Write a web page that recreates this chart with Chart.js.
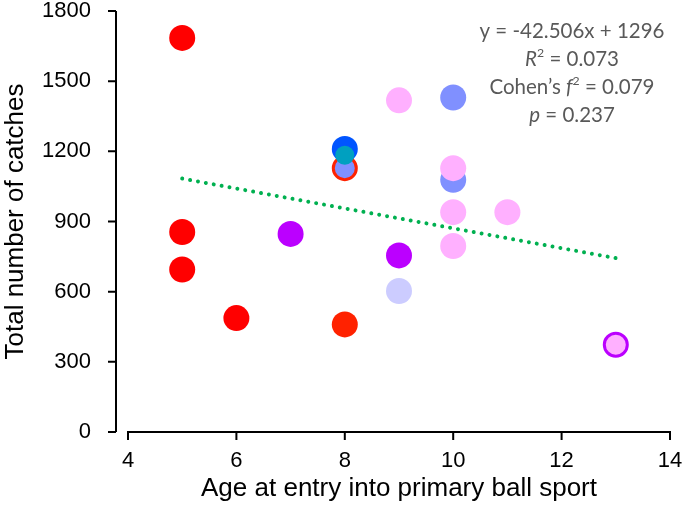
<!DOCTYPE html>
<html>
<head>
<meta charset="utf-8">
<script src="https://cdn.jsdelivr.net/npm/chart.js@4.4.0/dist/chart.umd.min.js"></script>
<style>
  html, body { margin: 0; padding: 0; background: #fff; }
  #wrap { width: 685px; height: 515px; }
</style>
</head>
<body>
<div id="wrap"><canvas id="chart" width="685" height="515"></canvas></div>
<script>
// dados (idade de entrada x total de capturas)
const ageRed = [5, 5, 5, 6]
const catchesRed = [1685, 855, 695, 487]
const ageOrange = [8]
const catchesOrange = [460]
const agePurple = [7, 9]
const catchesPurple = [847, 755]
const ageLavender = [9]
const catchesLavender = [603]
const agePeri = [10, 10]
const catchesPeri = [1430, 1078]
const agePink = [9, 10, 10, 10, 11]
const catchesPink = [1418, 1128, 940, 795, 940]
const ageRingRed = [8]
const catchesRingRed = [1128]
const ageBlue = [8]
const catchesBlue = [1210]
const ageTeal = [8]
const catchesTeal = [1183]
const ageRingPurple = [13]
const catchesRingPurple = [373]

// linha de tendência (y = -42.506x + 1296)
const trendAge = [5, 13]
const trendCatches = [1083.5, 743.4]

const xTicks = [4, 6, 8, 10, 12, 14]
const yTicks = [0, 300, 600, 900, 1200, 1500, 1800]

const statsLines = [
  [{ t: 'y = -42.506x + 1296' }],
  [{ t: 'R', i: true }, { t: '2', sup: true }, { t: ' = 0.073' }],
  [{ t: 'Cohen\u2019s ' }, { t: 'f', i: true }, { t: '2', sup: true }, { t: ' = 0.079' }],
  [{ t: 'p', i: true }, { t: ' = 0.237' }]
]

function pts(xs, ys) {
  return xs.map((v, i) => ({ x: v, y: ys[i] }))
}

function dot(label, xs, ys, color, radius) {
  return {
    label: label,
    data: pts(xs, ys),
    backgroundColor: color,
    borderWidth: 0,
    pointRadius: radius || 13,
    pointHoverRadius: radius || 13
  }
}

function ring(label, xs, ys, fill, edge) {
  return {
    label: label,
    data: pts(xs, ys),
    backgroundColor: fill,
    borderColor: edge,
    borderWidth: 3,
    pointRadius: 11.5,
    pointHoverRadius: 11.5
  }
}

// eixos desenhados à mão, o eixo y fica um pouco afastado do x
const axesPlugin = {
  id: 'axesPlugin',
  beforeDatasetsDraw(chart) {
    const { ctx, scales: { x, y } } = chart
    ctx.save()
    ctx.strokeStyle = '#000'
    ctx.lineWidth = 2
    const yx = x.getPixelForValue(4) - 12
    const y0 = y.getPixelForValue(0)
    ctx.beginPath()
    ctx.moveTo(yx, y.getPixelForValue(1800))
    ctx.lineTo(yx, y0)
    yTicks.forEach(v => {
      const p = y.getPixelForValue(v)
      ctx.moveTo(yx, p)
      ctx.lineTo(yx - 8, p)
    })
    ctx.moveTo(x.getPixelForValue(4), y0)
    ctx.lineTo(x.getPixelForValue(14), y0)
    xTicks.forEach(v => {
      const p = x.getPixelForValue(v)
      ctx.moveTo(p, y0 - 1)
      ctx.lineTo(p, y0 + 8)
    })
    ctx.stroke()
    ctx.restore()
  },
  afterDatasetsDraw(chart) {
    const ctx = chart.ctx
    const cx = 572
    const size = 20.5
    ctx.save()
    ctx.fillStyle = '#595959'
    ctx.textBaseline = 'middle'
    ctx.textAlign = 'left'
    statsLines.forEach((line, li) => {
      const yy = 31 + li * 28
      let total = 0
      line.forEach(s => {
        ctx.font = (s.i ? 'italic ' : '') + (s.sup ? size * 0.6 : size) + 'px Lato'
        s.w = ctx.measureText(s.t).width
        total += s.w
      })
      let xx = cx - total / 2
      line.forEach(s => {
        ctx.font = (s.i ? 'italic ' : '') + (s.sup ? size * 0.6 : size) + 'px Lato'
        ctx.fillText(s.t, xx, s.sup ? yy - 6 : yy)
        xx += s.w
      })
    })
    ctx.restore()
  }
}

new Chart('chart', {
  type: 'scatter',
  data: {
    datasets: [
      {
        label: 'Tendência',
        type: 'line',
        data: pts(trendAge, trendCatches),
        borderColor: '#00B050',
        borderWidth: 4,
        borderDash: [0.01, 8],
        borderCapStyle: 'round',
        pointRadius: 0,
        fill: false
      },
      ring('ring purple', ageRingPurple, catchesRingPurple, '#FFB0FF', '#BB00FF'),
      dot('teal', ageTeal, catchesTeal, '#00A0C0', 9.5),
      dot('blue', ageBlue, catchesBlue, '#0055FF'),
      ring('ring red', ageRingRed, catchesRingRed, '#8090FF', '#FF2200'),
      dot('pink', agePink, catchesPink, '#FFB0FF'),
      dot('peri', agePeri, catchesPeri, '#8090FF'),
      dot('lavender', ageLavender, catchesLavender, '#CCCCFF'),
      dot('purple', agePurple, catchesPurple, '#BB00FF'),
      dot('orange', ageOrange, catchesOrange, '#FF2200'),
      dot('red', ageRed, catchesRed, '#FF0000')
    ]
  },
  options: {
    responsive: false,
    animation: false,
    layout: { autoPadding: false, padding: { top: 11, right: 15, left: 0, bottom: 0 } },
    plugins: {
      legend: { display: false },
      tooltip: { enabled: false }
    },
    scales: {
      x: {
        type: 'linear',
        min: 4,
        max: 14,
        afterFit: s => { s.height = 83; s.paddingLeft = 0; s.paddingRight = 0 },
        afterBuildTicks: s => { s.ticks = xTicks.map(v => ({ value: v })) },
        grid: { display: false, drawTicks: false },
        border: { display: false },
        ticks: {
          padding: 16,
          color: '#000',
          callback: v => String(v),
          font: { family: 'Liberation Sans', size: 22 }
        },
        title: {
          display: true,
          text: 'Age at entry into primary ball sport',
          color: '#000',
          padding: { top: 0, bottom: 11 },
          font: { family: 'Liberation Sans', size: 26 }
        }
      },
      y: {
        type: 'linear',
        min: 0,
        max: 1800,
        afterFit: s => { s.width = 128; s.paddingTop = 0; s.paddingBottom = 0 },
        afterBuildTicks: s => { s.ticks = yTicks.map(v => ({ value: v })) },
        grid: { display: false, drawTicks: false },
        border: { display: false },
        ticks: {
          padding: 37,
          color: '#000',
          callback: v => String(v),
          font: { family: 'Liberation Sans', size: 22 }
        },
        title: {
          display: true,
          text: 'Total number of catches',
          color: '#000',
          padding: { top: 0, bottom: 0 },
          font: { family: 'Liberation Sans', size: 26 }
        }
      }
    }
  },
  plugins: [axesPlugin]
})
</script>
</body>
</html>
